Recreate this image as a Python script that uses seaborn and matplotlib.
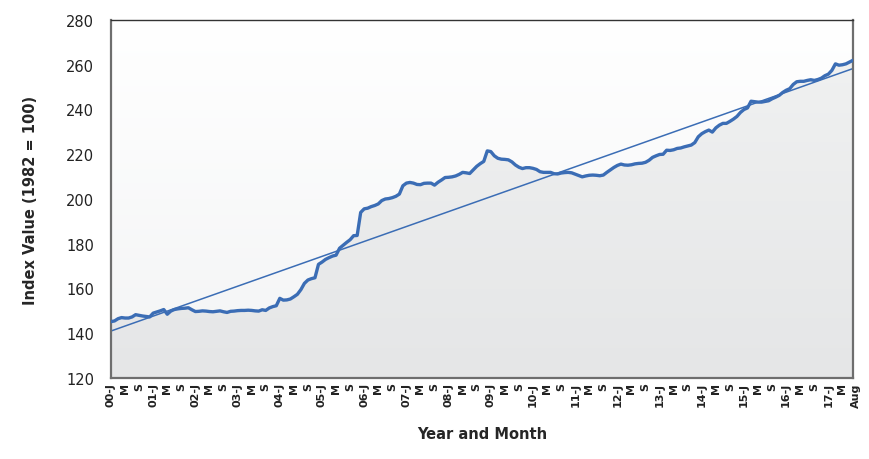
import numpy as np
import pandas as pd
import matplotlib
matplotlib.use("Agg")
import matplotlib.pyplot as plt
import matplotlib.transforms as mtransforms
from matplotlib.colors import LinearSegmentedColormap
import seaborn as sns

# ---- data ----
values_2000 = [145.2, 145.5, 146.5, 147.0, 146.8, 146.8, 147.3, 148.3, 148.0, 147.7, 147.5, 147.3]
values_2001 = [149.0, 149.5, 150.0, 150.6, 148.5, 149.9, 150.6, 150.9, 151.1, 151.2, 151.4, 150.5]
values_2002 = [149.7, 149.8, 150.0, 149.9, 149.7, 149.6, 149.8, 150.0, 149.6, 149.3, 149.8, 149.9]
values_2003 = [150.1, 150.2, 150.2, 150.3, 150.2, 150.0, 149.9, 150.5, 150.2, 151.3, 151.9, 152.3]
values_2004 = [155.6, 154.8, 154.9, 155.3, 156.3, 157.4, 159.5, 162.3, 163.8, 164.4, 164.8, 170.8]
values_2005 = [171.8, 173.0, 173.8, 174.5, 174.9, 178.0, 179.3, 180.6, 181.8, 183.6, 183.7, 194.0]
values_2006 = [195.6, 195.9, 196.6, 197.1, 197.8, 199.3, 200.0, 200.2, 200.6, 201.2, 202.2, 205.9]
values_2007 = [207.1, 207.4, 207.1, 206.5, 206.4, 207.0, 207.1, 207.1, 206.2, 207.5, 208.5, 209.6]
values_2008 = [209.7, 209.9, 210.3, 211.0, 211.9, 211.7, 211.4, 213.0, 214.6, 215.8, 216.8, 221.5]
values_2009 = [221.2, 219.3, 218.2, 217.8, 217.7, 217.5, 216.6, 215.2, 214.2, 213.6, 214.0, 214.0]
values_2010 = [213.7, 213.2, 212.2, 211.9, 211.9, 211.9, 211.3, 211.2, 211.6, 211.8, 211.9, 211.7]
values_2011 = [211.1, 210.5, 209.9, 210.3, 210.6, 210.7, 210.6, 210.4, 210.7, 211.9, 213.0, 214.1]
values_2012 = [215.0, 215.6, 215.2, 215.1, 215.3, 215.7, 215.9, 216.0, 216.4, 217.3, 218.6, 219.3]
values_2013 = [219.9, 220.0, 221.8, 221.7, 222.0, 222.6, 222.8, 223.3, 223.7, 224.1, 225.2, 227.8]
values_2014 = [229.2, 230.1, 230.8, 229.9, 231.8, 233.0, 233.8, 233.8, 234.7, 235.7, 236.9, 238.7]
values_2015 = [240.0, 240.7, 243.7, 243.5, 243.3, 243.3, 243.6, 243.9, 244.8, 245.5, 246.3, 247.6]
values_2016 = [248.6, 249.3, 251.2, 252.4, 252.6, 252.6, 253.0, 253.3, 253.0, 253.4, 254.0, 255.1]
values_2017 = [255.8, 257.5, 260.4, 259.8, 260.0, 260.4, 261.2, 262.0]

trend_start = 141.0
trend_end = 258.3

month_letters = ["J", "M", "S"]
final_label = "Aug"
first_year = 2000

series = (values_2000 + values_2001 + values_2002 + values_2003 + values_2004 +
          values_2005 + values_2006 + values_2007 + values_2008 + values_2009 +
          values_2010 + values_2011 + values_2012 + values_2013 + values_2014 +
          values_2015 + values_2016 + values_2017)
n = len(series)
idx = np.arange(n)
df = pd.DataFrame({"t": idx, "v": series})
trend_df = pd.DataFrame({"t": [0, n - 1], "v": [trend_start, trend_end]})

# tick labels: every 4 months plus the last month
tick_pos = list(range(0, n - 1, 4))
tick_lab = []
for p in tick_pos:
    m = p % 12
    if m == 0:
        tick_lab.append(f"{(first_year + p // 12) % 100:02d}-J")
    else:
        tick_lab.append(month_letters[m // 4])
tick_pos.append(n - 1)
tick_lab.append(final_label)

# ---- plot ----
sns.set_style("white")
plt.rcParams["font.family"] = ["DejaVu Sans"]

fig = plt.figure(figsize=(8.7, 4.6), dpi=100)
ax = fig.add_axes([111 / 870, 1 - 379 / 460, (853 - 111) / 870, (379 - 21) / 460])

ymin, ymax = 120, 280
ax.set_xlim(0, n - 1)
ax.set_ylim(ymin, ymax)

# background gradient (white at top, light grey at bottom)
bg = np.linspace(0, 1, 256).reshape(-1, 1)
bg_cmap = LinearSegmentedColormap.from_list("bg", ["#ffffff", "#f3f4f5"])
ax.imshow(bg, extent=[0, n - 1, ymin, ymax], cmap=bg_cmap, aspect="auto", zorder=0,
          origin="upper")

# area under curve with gradient
poly = ax.fill_between(idx, series, ymin, color="none", zorder=1)
area_cmap = LinearSegmentedColormap.from_list("ar", ["#f0f1f1", "#e5e6e7"])
grad = np.linspace(0, 1, 256).reshape(-1, 1)
im = ax.imshow(grad, extent=[0, n - 1, ymin, 265], cmap=area_cmap, aspect="auto",
               zorder=1, origin="upper")
path = poly.get_paths()[0]
im.set_clip_path(path, transform=ax.transData)

sns.lineplot(data=df, x="t", y="v", ax=ax, color="#3b6db5", linewidth=2.4, zorder=3)
sns.lineplot(data=trend_df, x="t", y="v", ax=ax, color="#3b6db5", linewidth=1.1, zorder=2)
ax.set_xlim(0, n - 1)
ax.set_ylim(ymin, ymax)

ax.set_yticks(np.arange(120, 281, 20))
ax.set_yticklabels([str(v) for v in range(120, 281, 20)], fontsize=10.5, color="#222222")
ax.set_xticks(tick_pos)
ax.set_xticklabels(tick_lab, rotation=90, fontsize=8.0, fontweight="bold", color="#222222")
ax.tick_params(axis="y", length=0, pad=12)
ax.tick_params(axis="x", length=0, pad=3)

# nudge the final "Aug" label slightly right so it does not touch "M"
last = ax.get_xticklabels()[-1]
last.set_transform(last.get_transform() +
                   mtransforms.ScaledTranslation(3 / 100, 0, fig.dpi_scale_trans))

ax.set_xlabel("Year and Month", fontsize=10.5, fontweight="bold", labelpad=14)
ax.set_ylabel("Index Value (1982 = 100)", fontsize=10.5, fontweight="bold", labelpad=20)

for s in ["left", "bottom", "right"]:
    ax.spines[s].set_color("#6e6e6e")
    ax.spines[s].set_linewidth(1.6)
ax.spines["top"].set_color("#333333")
ax.spines["top"].set_linewidth(1.0)

fig.savefig("out.png", dpi=100)
